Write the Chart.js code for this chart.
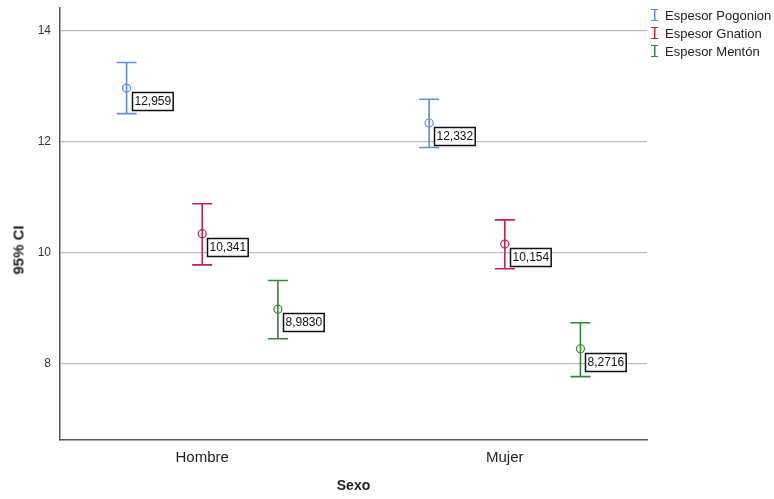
<!DOCTYPE html>
<html>
<head>
<meta charset="utf-8">
<script src="https://cdn.jsdelivr.net/npm/chart.js@4.4.0/dist/chart.umd.min.js"></script>
<style>
  body { margin: 0; background: #fff; }
  #wrap { position: relative; width: 774px; height: 499px; }
  #legend { position: absolute; left: 649px; top: 7px; font: 13px "Liberation Sans", Arial, sans-serif; color: #222; }
  .item { height: 18px; line-height: 18px; white-space: nowrap; }
  .mark { display: inline-block; width: 7px; height: 10px; margin: 0 7px 0 2px; vertical-align: -1px; }
  #ytitle { position: absolute; left: 18px; top: 250px; transform: translate(-50%, -50%) rotate(-90deg);
            font: bold 15px "Liberation Sans", Arial, sans-serif; color: #222; white-space: nowrap; }
</style>
</head>
<body>
<div id="wrap">
  <canvas id="chart" width="774" height="499"></canvas>
  <div id="legend"></div>
  <div id="ytitle">95% CI</div>
</div>
<script>
// categories and series
const categories = ['Hombre', 'Mujer'];
const seriesNames = ['Espesor Pogonion', 'Espesor Gnation', 'Espesor Mentón'];
const seriesColors = ['#5a8fd9', '#c8204b', '#2f8a2f'];

// means and 95% CI bounds, [Hombre, Mujer]
const pogonionMean = [12.959, 12.332];
const pogonionLow = [12.50, 11.89];
const pogonionHigh = [13.42, 12.76];

const gnationMean = [10.341, 10.154];
const gnationLow = [9.78, 9.71];
const gnationHigh = [10.88, 10.59];

const mentonMean = [8.9830, 8.2716];
const mentonLow = [8.45, 7.77];
const mentonHigh = [9.50, 8.74];

const yTicks = [8, 10, 12, 14];

const means = [pogonionMean, gnationMean, mentonMean];
const lows = [pogonionLow, gnationLow, mentonLow];
const highs = [pogonionHigh, gnationHigh, mentonHigh];
const groupOffset = [-0.25, 0, 0.25];

const datasets = seriesNames.map((name, s) => ({
    label: name,
    data: categories.map((c, i) => ({ x: i + groupOffset[s], y: means[s][i], lo: lows[s][i], hi: highs[s][i] })),
    borderColor: seriesColors[s],
    backgroundColor: 'rgba(0,0,0,0)',
    pointRadius: 4,
    pointBorderWidth: 1.2,
    showLine: false
}));

// draws CI whiskers and value boxes
const errorBars = {
    id: 'errorBars',
    beforeDatasetsDraw(chart) {
        const ctx = chart.ctx;
        const xs = chart.scales.x, ys = chart.scales.y;
        chart.data.datasets.forEach(ds => {
            ctx.save();
            ctx.strokeStyle = ds.borderColor;
            ctx.lineWidth = 1.6;
            ds.data.forEach(p => {
                const x = xs.getPixelForValue(p.x);
                const yl = ys.getPixelForValue(p.lo);
                const yh = ys.getPixelForValue(p.hi);
                ctx.beginPath();
                ctx.moveTo(x, yl); ctx.lineTo(x, yh);
                ctx.moveTo(x - 10, yl); ctx.lineTo(x + 10, yl);
                ctx.moveTo(x - 10, yh); ctx.lineTo(x + 10, yh);
                ctx.stroke();
            });
            ctx.restore();
        });
    },
    afterDatasetsDraw(chart) {
        const ctx = chart.ctx;
        const xs = chart.scales.x, ys = chart.scales.y;
        ctx.save();
        ctx.font = '12px "Liberation Sans", Arial, sans-serif';
        ctx.textBaseline = 'middle';
        chart.data.datasets.forEach(ds => {
            ds.data.forEach(p => {
                const x = xs.getPixelForValue(p.x);
                const y = ys.getPixelForValue(p.y);
                const txt = p.y.toPrecision(5).replace('.', ',');
                const w = ctx.measureText(txt).width + 4;
                const bx = Math.round(x + 5) + 0.5, by = Math.round(y + 4) + 0.5;
                ctx.fillStyle = '#fff';
                ctx.fillRect(bx, by, w, 18);
                ctx.strokeStyle = '#111';
                ctx.lineWidth = 1.5;
                ctx.strokeRect(bx, by, w, 18);
                ctx.fillStyle = '#111';
                ctx.fillText(txt, bx + 2, by + 9.5);
            });
        });
        ctx.restore();
    }
};

new Chart(document.getElementById('chart'), {
    type: 'scatter',
    data: { datasets: datasets },
    plugins: [errorBars],
    options: {
        responsive: false,
        animation: false,
        layout: { padding: { top: 8, right: 127, left: 0, bottom: 0 } },
        plugins: { legend: { display: false }, tooltip: { enabled: false } },
        scales: {
            x: {
                type: 'linear',
                min: -0.47,
                max: 1.47,
                afterBuildTicks: s => { s.ticks = categories.map((c, i) => ({ value: i })); },
                afterFit: s => { s.height = 59; s.paddingLeft = 0; s.paddingRight = 0; },
                grid: { display: false, drawTicks: false },
                border: { color: '#555', width: 1.5 },
                ticks: {
                    padding: 9,
                    color: '#222',
                    font: { size: 15, family: '"Liberation Sans", Arial' },
                    callback: v => categories[v]
                },
                title: {
                    display: true,
                    text: 'Sexo',
                    color: '#222',
                    padding: { top: 4, bottom: 4 },
                    font: { size: 14, weight: 'bold', family: '"Liberation Sans", Arial' }
                }
            },
            y: {
                min: 6.63,
                max: 14.4,
                afterBuildTicks: s => { s.ticks = yTicks.map(v => ({ value: v })); },
                afterFit: s => { s.width = 60; s.paddingTop = 0; s.paddingBottom = 0; },
                grid: { color: '#bdbdbd', lineWidth: 1.2, drawTicks: false },
                border: { color: '#555', width: 1.5 },
                ticks: {
                    padding: 9,
                    color: '#333',
                    font: { size: 12, family: '"Liberation Sans", Arial' }
                }
            }
        }
    }
});

// legend
const legend = document.getElementById('legend');
seriesNames.forEach((name, s) => {
    const c = seriesColors[s];
    const row = document.createElement('div');
    row.className = 'item';
    const m = document.createElement('span');
    m.className = 'mark';
    m.style.borderTop = '1.5px solid ' + c;
    m.style.borderBottom = '1.5px solid ' + c;
    m.style.background = 'linear-gradient(' + c + ',' + c + ') center / 1.5px 100% no-repeat';
    row.appendChild(m);
    row.appendChild(document.createTextNode(name));
    legend.appendChild(row);
});
</script>
</body>
</html>
